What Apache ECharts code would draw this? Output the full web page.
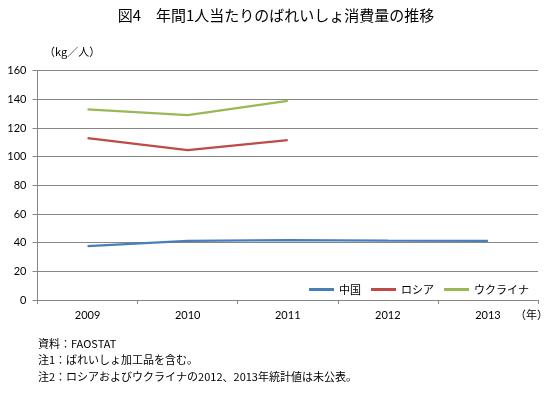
<!DOCTYPE html>
<html><head><meta charset="utf-8">
<script src="https://cdn.jsdelivr.net/npm/echarts@6/dist/echarts.min.js"></script>
<style>html,body{margin:0;padding:0;background:#fff}#c{width:552px;height:394px}</style>
</head><body><div id="c"></div>
<script>
var years = ['2009', '2010', '2011', '2012', '2013'];
var china = [37.6, 41.3, 41.8, 41.4, 41.3];
var russia = [113, 104.5, 111.5, null, null];
var ukraine = [133, 129, 139, null, null];
var seriesNames = ['中国', 'ロシア', 'ウクライナ'];
var yTicks = { min: 0, max: 160, interval: 20 };

var chart = echarts.init(document.getElementById('c'), null, { renderer: 'canvas' });
var jp = '"Noto Sans CJK JP", sans-serif';
var num = 'Lato, "Noto Sans", sans-serif';
var gray = '#868686';
function line(name, data, color) {
  return { name: name, type: 'line', data: data, symbol: 'none', connectNulls: false,
    lineStyle: { color: color, width: 2.25 }, itemStyle: { color: color } };
}
chart.setOption({
  animation: false,
  title: { text: '図4　年間1人当たりのばれいしょ消費量の推移', left: 'center', top: 3,
    textStyle: { fontFamily: jp, fontSize: 15, fontWeight: 'normal', color: '#000' } },
  grid: { left: 37.5, right: 14, top: 70.7, bottom: 94, containLabel: false },
  legend: { left: 304, top: 279, itemWidth: 25, itemHeight: 3, itemGap: 10, icon: 'rect',
    textStyle: { fontFamily: jp, fontSize: 11, color: '#000' },
    data: seriesNames },
  xAxis: { type: 'category', data: years, boundaryGap: true,
    axisLine: { lineStyle: { color: gray } },
    axisTick: { show: true, length: 4, lineStyle: { color: gray } },
    axisLabel: { margin: 10, fontFamily: num, fontSize: 11, color: '#000' } },
  yAxis: { type: 'value', min: yTicks.min, max: yTicks.max, interval: yTicks.interval,
    axisLine: { show: true, lineStyle: { color: gray } },
    axisTick: { show: true, length: 5, lineStyle: { color: gray } },
    splitLine: { lineStyle: { color: gray, width: 1 } },
    axisLabel: { margin: 11, fontFamily: num, fontSize: 11, color: '#000' } },
  graphic: [
    { type: 'text', left: 44, top: 46, style: { text: '（kg／人）', font: '11px ' + jp, fill: '#000' } },
    { type: 'text', left: 515, top: 309, style: { text: '（年）', font: '11px ' + jp, fill: '#000' } },
    { type: 'text', left: 38, top: 338, style: { text: '資料：FAOSTAT', font: '11px ' + jp, fill: '#000' } },
    { type: 'text', left: 38, top: 354, style: { text: '注1：ばれいしょ加工品を含む。', font: '11px ' + jp, fill: '#000' } },
    { type: 'text', left: 38, top: 371, style: { text: '注2：ロシアおよびウクライナの2012、2013年統計値は未公表。', font: '11px ' + jp, fill: '#000' } }
  ],
  series: [
    line(seriesNames[0], china, '#4a7ebb'),
    line(seriesNames[1], russia, '#be4b48'),
    line(seriesNames[2], ukraine, '#98b954')
  ]
});
</script></body></html>
